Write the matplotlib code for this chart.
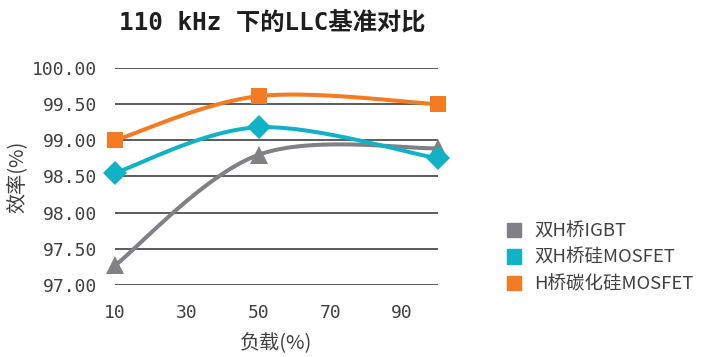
import numpy as np
import matplotlib.pyplot as plt
from matplotlib.patches import Patch

plt.rcParams['font.family'] = ['DejaVu Sans Mono', 'Noto Sans CJK SC']

# load (%) and efficiency (%) per topology
load = [10, 50, 100]
igbt = [97.27, 98.80, 98.89]
si_mosfet = [98.55, 99.18, 98.75]
sic_mosfet = [99.00, 99.61, 99.50]

series_names = ['双H桥IGBT', '双H桥硅MOSFET', 'H桥碳化硅MOSFET']
colors = ['#808085', '#12B2C6', '#F47B21']
markers = ['^', 'D', 's']
marker_sizes = [13, 12, 11]

x_ticks = [10, 30, 50, 70, 90]
y_ticks = [97.0, 97.5, 98.0, 98.5, 99.0, 99.5, 100.0]


def smooth(xs, ys, n=40):
    """Catmull-Rom style bezier smoothing (like spreadsheet smoothed lines)."""
    p = np.column_stack([xs, ys]).astype(float)
    ext = np.vstack([p[0], p, p[-1]])
    out = []
    t = np.linspace(0, 1, n)[:, None]
    for i in range(len(p) - 1):
        p0, p1, p2, p3 = ext[i], ext[i + 1], ext[i + 2], ext[i + 3]
        c1 = p1 + (p2 - p0) / 6
        c2 = p2 - (p3 - p1) / 6
        seg = ((1 - t) ** 3) * p1 + 3 * ((1 - t) ** 2) * t * c1 \
            + 3 * (1 - t) * t ** 2 * c2 + t ** 3 * p2
        out.append(seg if i == 0 else seg[1:])
    seg = np.vstack(out)
    return seg[:, 0], seg[:, 1]


fig = plt.figure(figsize=(7.06, 3.57), dpi=100)
ax = fig.add_axes([115 / 706, 72 / 357, 323 / 706, 217 / 357])

for ys, c, m, ms in zip([igbt, si_mosfet, sic_mosfet], colors, markers, marker_sizes):
    sx, sy = smooth(load, ys)
    ax.plot(sx, sy, color=c, lw=2.9, solid_capstyle='round', zorder=3)
    ax.plot(load, ys, linestyle='none', marker=m, ms=ms, color=c,
            markeredgewidth=0, zorder=4, clip_on=False)

ax.set_xlim(10, 100)
ax.set_ylim(97, 100)
ax.set_xticks(x_ticks)
ax.set_yticks(y_ticks)
ax.set_yticklabels(['%.2f' % v for v in y_ticks])
ax.tick_params(length=0, labelsize=13, labelcolor='#404040')
ax.tick_params(axis='y', pad=13)
ax.tick_params(axis='x', pad=14)
for s in ax.spines.values():
    s.set_visible(False)
ax.grid(axis='y', color='#3f3f3f', lw=1.2)
ax.set_axisbelow(True)

cjk = ['Noto Sans CJK SC', 'DejaVu Sans']
ax.set_xlabel('负载(%)', fontsize=14.5, color='#404040', family=cjk, labelpad=8)
ax.set_ylabel('效率(%)', fontsize=14.5, color='#404040', family=cjk, labelpad=3)

fig.text(272 / 706, 1 - 24 / 357, '110 kHz 下的LLC基准对比', ha='center', va='center',
         fontsize=17.5, fontweight='bold', color='#1e1e1e',
         family=['DejaVu Sans Mono', 'Noto Sans CJK SC'])

handles = [Patch(color=c) for c in colors]
leg = fig.legend(handles, series_names, loc='upper left',
                 bbox_to_anchor=(490 / 706, 1 - 206 / 357), frameon=False,
                 prop={'family': cjk, 'size': 13.3}, handlelength=0.8,
                 handleheight=0.8, handletextpad=0.7, labelspacing=0.45,
                 labelcolor='#404040')

fig.savefig('out.png', dpi=100)
